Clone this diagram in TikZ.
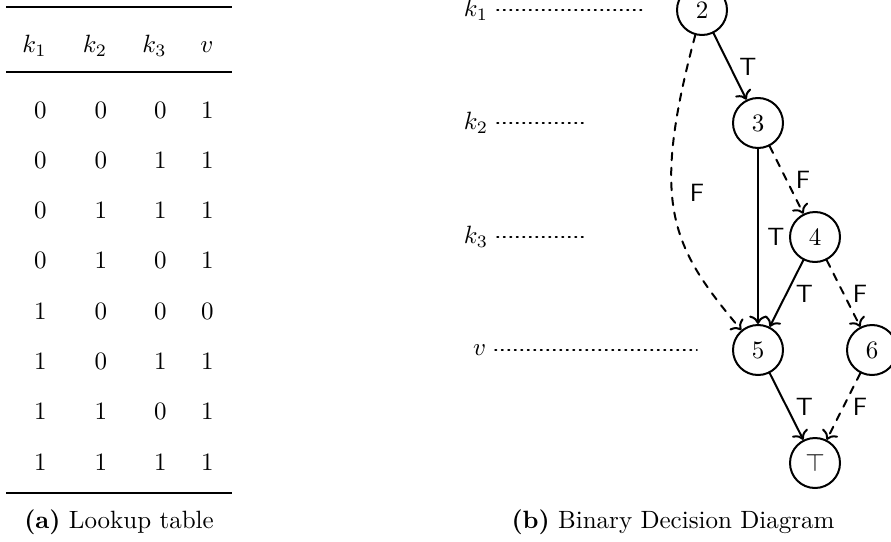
\documentclass[tikz,border=0pt]{standalone}
\usepackage{amsmath,amssymb}
\usepackage{tikz}
\usetikzlibrary{arrows.meta,calc,positioning}
\tikzset{
  every picture/.append style={line cap=round,line join=round},
  bdd node/.style={circle,draw,thick,minimum size=20pt,inner sep=0pt},
  bdd high/.style={thick,->},
  bdd low/.style={thick,dashed,->},
  bdd label/.style={font=\sffamily,midway,right},
  bdd level/.style={anchor=east},
  bdd guide/.style={dotted,semithick},
  tab heavy/.style={line width=0.8pt,line cap=butt},
  tab light/.style={line width=0.5pt,line cap=butt},
  tab cell/.style={anchor=base east,inner sep=0pt}
}

\begin{document}
\begin{tikzpicture}[x=0.4pt,y=0.4pt]
  \useasboundingbox (0,0) rectangle (891,541);
  % (a) lookup table
  \draw[tab heavy] (6,534) -- (232,534);
  \draw[tab light] (6,469) -- (232,469);
  \draw[tab heavy] (6,48) -- (232,48);
  \foreach \x/\h [count=\c] in {47/k_1,107.5/k_2,167/k_3,214/v}
    \node[tab cell] (h\c) at (\x,488) {$\h$};
  \foreach \a/\b/\c/\d [count=\i from 0] in
      {0/0/0/1,0/0/1/1,0/1/1/1,0/1/0/1,1/0/0/0,1/0/1/1,1/1/0/1,1/1/1/1} {
    \node[tab cell] (r\i a) at (47,423-50.3*\i) {$\a$};
    \node[tab cell] (r\i b) at (107.5,423-50.3*\i) {$\b$};
    \node[tab cell] (r\i c) at (167,423-50.3*\i) {$\c$};
    \node[tab cell] (r\i d) at (214,423-50.3*\i) {$\d$};
  }
  \node[anchor=base] (cap a) at (119,13) {\textbf{(a)} Lookup table};

  % (b) binary decision diagram
  \node[bdd node] (n2) at (702,531) {$2$};
  \node[bdd node] (n3) at (758,418) {$3$};
  \node[bdd node] (n4) at (815,304) {$4$};
  \node[bdd node] (n5) at (758,191) {$5$};
  \node[bdd node] (n6) at (872,191) {$6$};
  \node[bdd node] (one) at (815,78) {$\top$};

  \node[bdd level] (lk1) at (497,531) {$k_1$};
  \node[bdd level] (lk2) at (497,418) {$k_2$};
  \node[bdd level] (lk3) at (497,304) {$k_3$};
  \node[bdd level] (lv) at (495,191) {$v$};
  \coordinate (g1) at (642,531);
  \coordinate (g2) at (583,418);
  \coordinate (g3) at (583,304);
  \coordinate (g4) at (697,191);
  \draw[bdd guide] (lk1.east) -- (g1);
  \draw[bdd guide] (lk2.east) -- (g2);
  \draw[bdd guide] (lk3.east) -- (g3);
  \draw[bdd guide] (lv.east) -- (g4);

  \draw[bdd high] (n2) -- node[bdd label] {T} (n3);
  \draw[bdd low] (n2) to[out=255,in=130,out distance=70pt,in distance=44pt]
    node[bdd label,pos=0.42,xshift=3.5pt] {F} (n5);
  \draw[bdd high] (n3) -- node[bdd label] {T} (n5);
  \draw[bdd low] (n3) -- node[bdd label] {F} (n4);
  \draw[bdd high] (n4) -- node[bdd label] {T} (n5);
  \draw[bdd low] (n4) -- node[bdd label] {F} (n6);
  \draw[bdd high] (n5) -- node[bdd label] {T} (one);
  \draw[bdd low] (n6) -- node[bdd label] {F} (one);
  \node[anchor=base] (cap b) at (673,13) {\textbf{(b)} Binary Decision Diagram};
\end{tikzpicture}
\end{document}
